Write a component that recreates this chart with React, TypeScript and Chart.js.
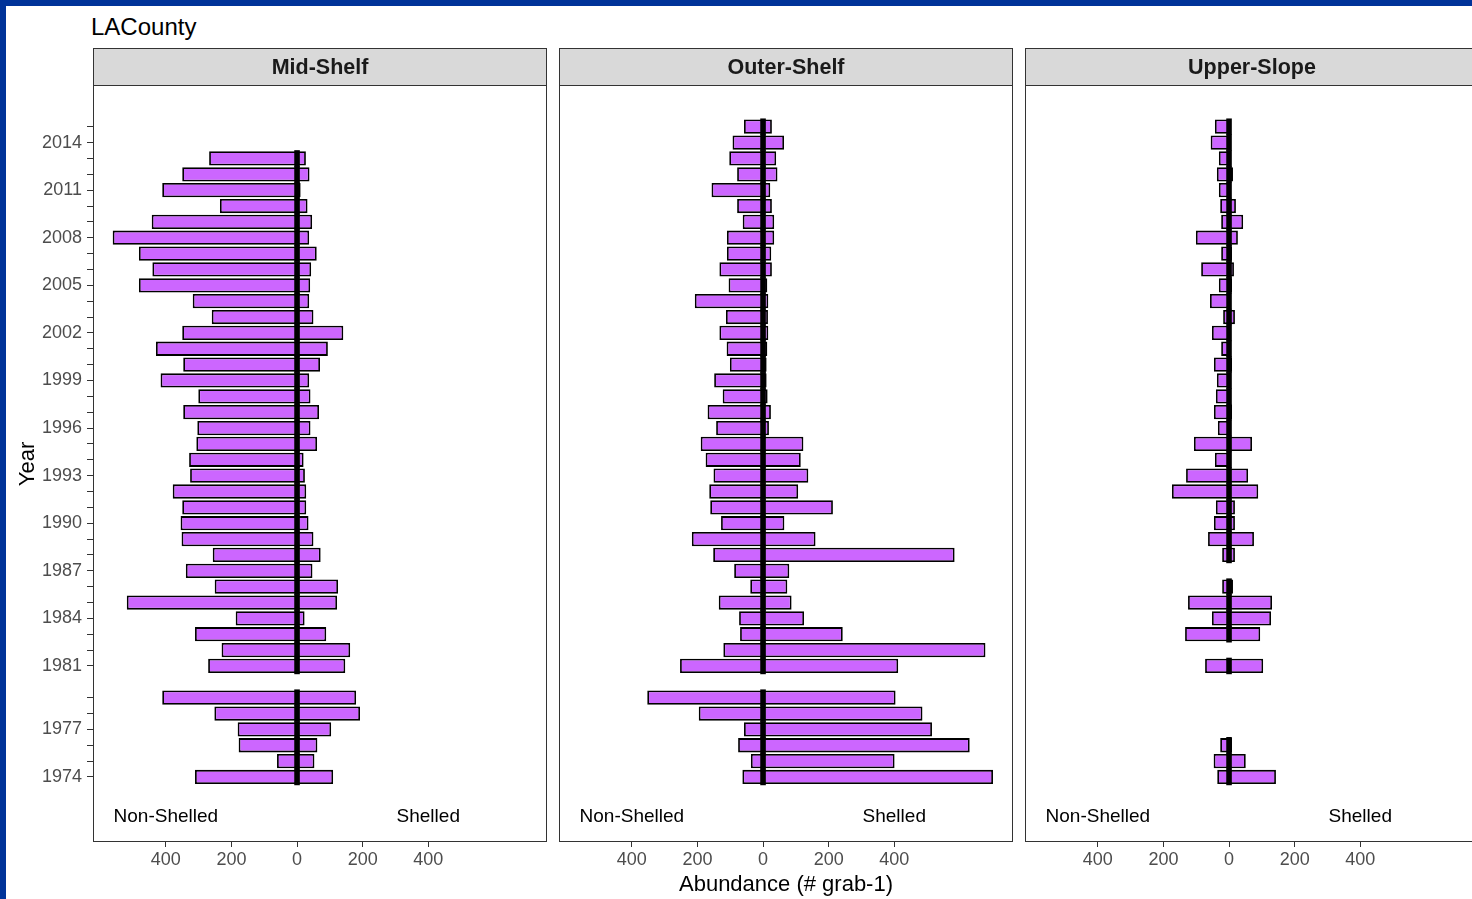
import React, { useEffect, useRef } from 'react';
import { Chart, registerables } from 'chart.js';

Chart.register(...registerables);

// ---------------- data ----------------
const years = [
  1974, 1975, 1976, 1977, 1978, 1979,
  1981, 1982, 1983, 1984, 1985, 1986, 1987, 1988, 1989, 1990,
  1991, 1992, 1993, 1994, 1995, 1996, 1997, 1998, 1999, 2000,
  2001, 2002, 2003, 2004, 2005, 2006, 2007, 2008, 2009, 2010,
  2011, 2012, 2013, 2014, 2015,
];

const labeledYears = [1974, 1977, 1981, 1984, 1987, 1990, 1993, 1996, 1999, 2002, 2005, 2008, 2011, 2014];
const xTickValues = [-400, -200, 0, 200, 400];

const panelNames = ['Mid-Shelf', 'Outer-Shelf', 'Upper-Slope'];

const midNonShelled = [
  311, 61, 178, 181, 252, 411,
  271, 230, 311, 187, 519, 251, 339, 257, 352, 355,
  350, 379, 326, 329, 307, 304, 347, 301, 416, 347,
  430, 350, 260, 318, 482, 441, 482, 562, 443, 235,
  411, 350, 268, null, null,
];
const midShelled = [
  110, 53, 62, 104, 192, 180,
  147, 162, 89, 23, 122, 125, 47, 72, 50, 35,
  28, 28, 24, 20, 61, 41, 67, 41, 37, 70,
  94, 141, 50, 37, 40, 43, 60, 37, 46, 32,
  11, 38, 27, null, null,
];

const outerNonShelled = [
  63, 37, 76, 58, 196, 353,
  253, 121, 70, 73, 135, 39, 88, 152, 217, 128,
  161, 164, 151, 175, 190, 143, 169, 123, 149, 101,
  111, 133, 113, 208, 105, 133, 110, 110, 62, 79,
  157, 79, 103, 93, 58,
];
const outerShelled = [
  701, 401, 630, 515, 486, 404,
  412, 678, 243, 125, 87, 74, 80, 584, 160, 65,
  213, 107, 138, 115, 123, 18, 24, 14, 11, 11,
  13, 16, 15, 16, 13, 27, 25, 34, 34, 27,
  22, 44, 40, 64, 27,
];

const upperNonShelled = [
  36, 47, 27, null, null, null,
  73, null, 134, 52, 125, 21, null, 21, 64, 46,
  40, 174, 131, 43, 107, 34, 46, 40, 37, 46,
  24, 52, 18, 58, 31, 85, 24, 101, 24, 27,
  31, 37, 31, 56, 43,
];
const upperShelled = [
  143, 51, 9, null, null, null,
  104, null, 95, 128, 131, 12, null, 18, 76, 18,
  18, 89, 58, 6, 70, 3, 9, 6, 3, 9,
  3, 3, 18, 6, 9, 15, 9, 27, 43, 21,
  6, 12, 6, 3, 3,
];

const annotationLabels = ['Non-Shelled', 'Shelled'];
const annotationX = [-400, 400];
const annotationYear = 1971.5;

const zeroHalfWidth = 7.5;

// ---------------- styling ----------------
const FONT = "'Liberation Sans', Arial, Helvetica, sans-serif";
const BAR_FILL = '#CC66FF';
const X_MIN = -622;
const X_MAX = 762;
const Y_MIN = 1969.9;
const Y_MAX = 2017.63;

const facetPlugin = {
  id: 'facet',
  afterDraw(chart: any, _args: any, opts: any) {
    const { ctx, chartArea: a, scales } = chart;
    ctx.save();
    // annotations
    ctx.font = `19px ${FONT}`;
    ctx.fillStyle = '#000000';
    ctx.textAlign = 'center';
    ctx.textBaseline = 'middle';
    annotationLabels.forEach((t, i) => {
      ctx.fillText(t, scales.x.getPixelForValue(annotationX[i]), scales.y.getPixelForValue(annotationYear));
    });
    // panel border
    ctx.strokeStyle = '#333333';
    ctx.lineWidth = 1;
    ctx.strokeRect(a.left + 0.5, a.top + 0.5, a.width - 1, a.height - 1);
    // strip
    const h = opts.stripHeight;
    const top = a.top - h;
    ctx.fillStyle = '#D9D9D9';
    ctx.fillRect(a.left, top, a.width, h);
    ctx.strokeRect(a.left + 0.5, top + 0.5, a.width - 1, h);
    ctx.fillStyle = '#1A1A1A';
    ctx.font = `bold 21.5px ${FONT}`;
    ctx.fillText(opts.label, (a.left + a.right) / 2, top + h / 2 + 1.5);
    ctx.restore();
  },
};

type PanelProps = {
  name: string;
  nonShelled: (number | null)[];
  shelled: (number | null)[];
  showY: boolean;
  left: number;
  width: number;
};

function Panel({ name, nonShelled, shelled, showY, left, width }: PanelProps) {
  const ref = useRef<HTMLCanvasElement>(null);
  const height = 859;

  useEffect(() => {
    if (!ref.current) return;
    const pts = (arr: (number | null)[], sign: number) =>
      years
        .map((y, i) => (arr[i] == null ? null : { y, x: sign * (arr[i] as number) }))
        .filter((p) => p !== null);
    const zero = years
      .map((y, i) => (nonShelled[i] != null || shelled[i] != null ? { y, x: [-zeroHalfWidth, zeroHalfWidth] } : null))
      .filter((p) => p !== null);

    const barCommon = {
      backgroundColor: BAR_FILL,
      borderColor: '#000000',
      borderWidth: 1.8,
      borderSkipped: false,
      barPercentage: 0.9,
      categoryPercentage: 1,
      grouped: false,
      order: 1,
    };

    const chart = new Chart(ref.current, {
      type: 'bar',
      data: {
        datasets: [
          { label: 'Non-Shelled', data: pts(nonShelled, -1), ...barCommon } as any,
          { label: 'Shelled', data: pts(shelled, 1), ...barCommon } as any,
          {
            label: 'zero',
            data: zero,
            backgroundColor: '#000000',
            borderWidth: 0,
            barPercentage: 1,
            categoryPercentage: 1,
            grouped: false,
            order: 0,
          } as any,
        ],
      },
      options: {
        indexAxis: 'y',
        responsive: false,
        maintainAspectRatio: false,
        animation: false,
        events: [],
        devicePixelRatio: 1,
        layout: { padding: { top: 45, left: 0, right: 0, bottom: 0 } },
        plugins: {
          legend: { display: false },
          tooltip: { enabled: false },
          facet: { label: name, stripHeight: 37 },
        } as any,
        scales: {
          x: {
            type: 'linear',
            min: X_MIN,
            max: X_MAX,
            bounds: 'data',
            offset: false,
            afterBuildTicks: (s: any) => {
              s.ticks = xTickValues.map((v) => ({ value: v }));
            },
            afterFit: (s: any) => {
              s.height = 57;
            },
            ticks: {
              autoSkip: false,
              maxRotation: 0,
              padding: 2,
              color: '#4D4D4D',
              font: { family: FONT, size: 18 },
              callback: (v: any) => String(Math.abs(Number(v))),
            },
            grid: { offset: false, drawOnChartArea: false, drawTicks: true, tickLength: 5, color: '#333333', lineWidth: 1 },
            border: { display: false },
          },
          y: {
            type: 'linear',
            min: Y_MIN,
            max: Y_MAX,
            bounds: 'data',
            offset: false,
            display: showY,
            afterBuildTicks: (s: any) => {
              s.ticks = years.map((v) => ({ value: v }));
            },
            afterFit: (s: any) => {
              s.width = showY ? 87 : 0;
            },
            ticks: {
              autoSkip: false,
              padding: 5,
              color: '#4D4D4D',
              font: { family: FONT, size: 18 },
              callback: (v: any) => (labeledYears.includes(Number(v)) ? String(v) : ''),
            },
            grid: { offset: false, drawOnChartArea: false, drawTicks: true, tickLength: 6, color: '#333333', lineWidth: 1 },
            border: { display: false },
          },
        } as any,
      } as any,
      plugins: [facetPlugin],
    });
    return () => chart.destroy();
  }, []);

  return (
    <canvas
      ref={ref}
      width={width}
      height={height}
      style={{ position: 'absolute', left, top: 40, width, height }}
    />
  );
}

export default function App() {
  useEffect(() => {
    document.body.style.margin = '0';
    document.body.style.overflow = 'hidden';
    document.body.style.background = '#ffffff';
  }, []);

  return (
    <div style={{ position: 'relative', width: 1472, height: 899, overflow: 'hidden', background: '#ffffff' }}>
      <Panel name={panelNames[0]} nonShelled={midNonShelled} shelled={midShelled} showY={true} left={6} width={541} />
      <Panel name={panelNames[1]} nonShelled={outerNonShelled} shelled={outerShelled} showY={false} left={559} width={454} />
      <Panel name={panelNames[2]} nonShelled={upperNonShelled} shelled={upperShelled} showY={false} left={1025} width={454} />

      <div style={{ position: 'absolute', left: 0, top: 0, width: 6, height: 899, background: '#003399' }} />
      <div style={{ position: 'absolute', left: 0, top: 0, width: 1472, height: 6, background: '#003399' }} />

      <div
        style={{
          position: 'absolute', left: 91, top: 15, fontFamily: FONT, fontSize: 24, lineHeight: '24px',
          color: '#000000', whiteSpace: 'nowrap',
        }}
      >
        LACounty
      </div>

      <div
        style={{
          position: 'absolute', left: 27 - 100, top: 463.5 - 11, width: 200, height: 22, textAlign: 'center',
          fontFamily: FONT, fontSize: 22, lineHeight: '22px', color: '#000000', transform: 'rotate(-90deg)',
          transformOrigin: '50% 50%', whiteSpace: 'nowrap',
        }}
      >
        Year
      </div>

      <div
        style={{
          position: 'absolute', left: 786 - 200, top: 872.5, width: 400, textAlign: 'center',
          fontFamily: FONT, fontSize: 22, lineHeight: '22px', color: '#000000', whiteSpace: 'nowrap',
        }}
      >
        Abundance (# grab-1)
      </div>
    </div>
  );
}
